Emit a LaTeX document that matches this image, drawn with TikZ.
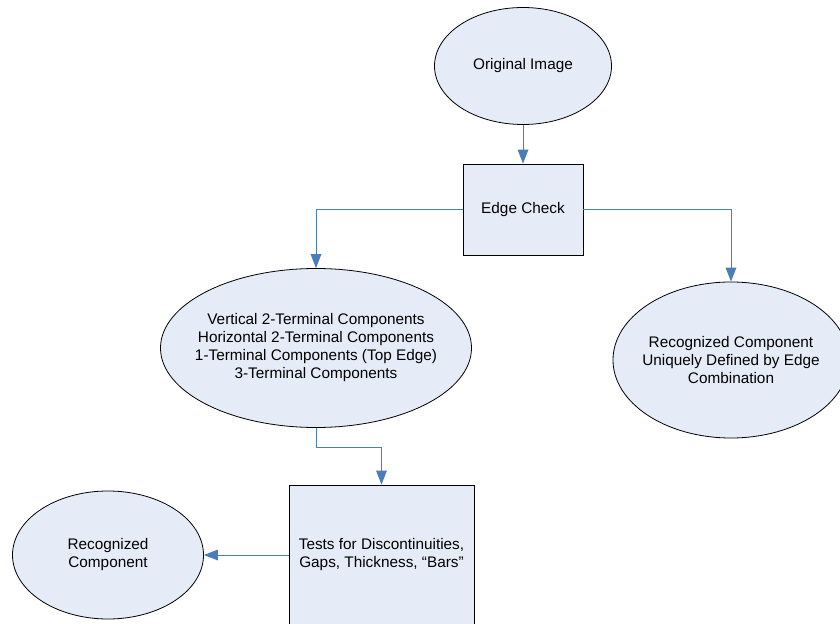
\documentclass[tikz,border=0pt]{standalone}
\usepackage{fontspec}
\setmainfont{Liberation Sans}
\usetikzlibrary{shapes.geometric,arrows.meta}
\definecolor{boxfill}{RGB}{230,236,247}
\definecolor{linkblue}{RGB}{74,126,187}
\begin{document}
\begin{tikzpicture}[x=0.75pt,y=-0.75pt]
			\tikzset{every node/.style={align=center,font=\fontsize{11.5}{13.5}\selectfont,inner sep=0pt}}
			\tikzset{oval/.style={ellipse,draw=black,fill=boxfill,line width=0.6pt,inner xsep=-20pt}}
			\tikzset{block/.style={rectangle,draw=black,fill=boxfill,line width=0.6pt}}
			\tikzset{link/.style={draw=linkblue,line width=0.75pt,-{Triangle[length=10.5pt,width=8pt]}}}
			\useasboundingbox (0,0) rectangle (840,624);
			\clip (0,0) rectangle (840,624);
			\node[oval,minimum width=132.75pt,minimum height=87.75pt] (orig) at (523,66) {Original Image};
			\node[block,minimum width=90pt,minimum height=68.25pt] (edge) at (523,209.5) {Edge Check};
			\node[oval,minimum width=233.25pt,minimum height=119.25pt] (vert) at (316,348) {Vertical 2-Terminal Components\\Horizontal 2-Terminal Components\\1-Terminal Components (Top Edge)\\3-Terminal Components};
			\node[oval,minimum width=177pt,minimum height=117pt] (uniq) at (731,360) {Recognized Component\\Uniquely Defined by Edge\\Combination};
			\node[block,minimum width=138.75pt,minimum height=105pt] (tests) at (381.5,555) {Tests for Discontinuities,\\Gaps, Thickness, ``Bars''};
			\node[oval,minimum width=143.25pt,minimum height=96pt] (recog) at (108,555) {Recognized\\Component};
			\draw[link] (orig) -- (edge);
			\draw[link] (edge.west) -| (vert.north);
			\draw[link] (edge.east) -| (uniq.north);
			\draw[link] (vert.south) -- ++(0,20) -| (tests.north);
			\draw[link] (tests.west) -- (recog.east);
		\end{tikzpicture}
\end{document}
